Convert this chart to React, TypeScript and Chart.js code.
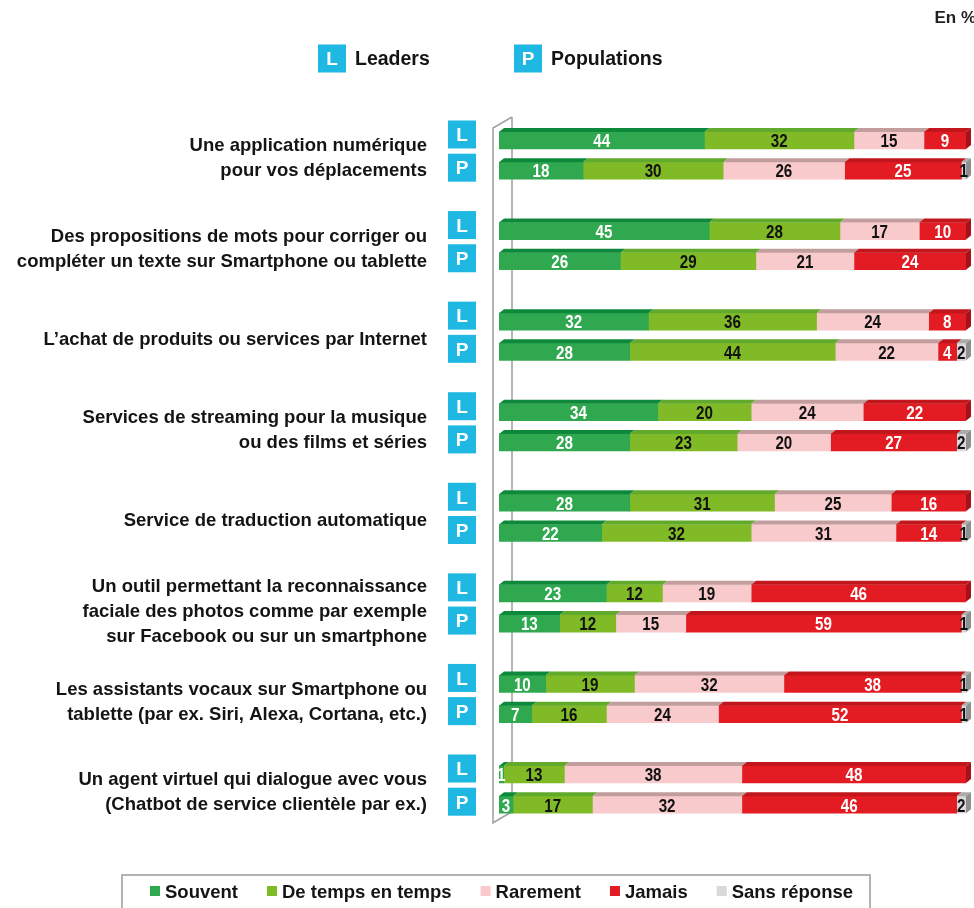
import React, { useEffect, useRef } from "react";
import { Chart, registerables } from "chart.js";

Chart.register(...registerables);

// ---------- data ----------
const categories: string[][] = [
  ["Une application numérique", "pour vos déplacements"],
  ["Des propositions de mots pour corriger ou", "compléter un texte sur Smartphone ou tablette"],
  ["L’achat de produits ou services par Internet"],
  ["Services de streaming pour la musique", "ou des films et séries"],
  ["Service de traduction automatique"],
  ["Un outil permettant la reconnaissance", "faciale des photos comme par exemple", "sur Facebook ou sur un smartphone"],
  ["Les assistants vocaux sur Smartphone ou", "tablette (par ex. Siri, Alexa, Cortana, etc.)"],
  ["Un agent virtuel qui dialogue avec vous", "(Chatbot de service clientèle par ex.)"],
];
const groupLetters = ["L", "P"];
const groupNames = ["Leaders", "Populations"];
const seriesNames = ["Souvent", "De temps en temps", "Rarement", "Jamais", "Sans réponse"];
const unitLabel = "En %";

const souventLeaders = [44, 45, 32, 34, 28, 23, 10, 1];
const souventPopulations = [18, 26, 28, 28, 22, 13, 7, 3];
const tempsLeaders = [32, 28, 36, 20, 31, 12, 19, 13];
const tempsPopulations = [30, 29, 44, 23, 32, 12, 16, 17];
const rarementLeaders = [15, 17, 24, 24, 25, 19, 32, 38];
const rarementPopulations = [26, 21, 22, 20, 31, 15, 24, 32];
const jamaisLeaders = [9, 10, 8, 22, 16, 46, 38, 48];
const jamaisPopulations = [25, 24, 4, 27, 14, 59, 52, 46];
const sansReponseLeaders = [0, 0, 0, 0, 0, 0, 1, 0];
const sansReponsePopulations = [1, 0, 2, 2, 1, 1, 1, 2];

const leaderSeries = [souventLeaders, tempsLeaders, rarementLeaders, jamaisLeaders, sansReponseLeaders];
const populationSeries = [souventPopulations, tempsPopulations, rarementPopulations, jamaisPopulations, sansReponsePopulations];

// ---------- styles ----------
const W = 974;
const H = 908;
const FRONT = ["#2fa84f", "#80bb27", "#f8cacb", "#e31b23", "#d9d9d9"];
const TOPC = ["#0e893b", "#62aa2b", "#c29d9d", "#c1161c", "#ababab"];
const SIDEC = ["#0f7d36", "#5b9a22", "#b48f8f", "#a51218", "#8f8f8f"];
const LABELC = ["#ffffff", "#111111", "#111111", "#ffffff", "#111111"];
const BADGE = "#1eb8e2";
const TEXT = "#141414";
const FONT = '"Liberation Sans", Arial, sans-serif';

type Row = { cat: number; group: number } | null;
const rows: Row[] = [];
categories.forEach((_, i) => {
  rows.push({ cat: i, group: 0 });
  rows.push({ cat: i, group: 1 });
  if (i < categories.length - 1) rows.push(null);
});
const rowLabels = rows.map((r, i) => (r ? `${r.cat}-${groupLetters[r.group]}` : `gap-${i}`));

const valueOf = (r: Row, s: number): number | null =>
  r ? (r.group === 0 ? leaderSeries : populationSeries)[s][r.cat] : null;

const DX = 5;
const DY = 4;

const decorPlugin = {
  id: "decor",
  beforeDatasetsDraw(chart: any) {
    const { ctx, chartArea } = chart;
    const fx = chartArea.left - 6;
    const bx = chartArea.left + 13;
    const ty = chartArea.top + 2.6;
    const by = chartArea.bottom + 3;
    ctx.save();
    ctx.strokeStyle = "#a3a3a3";
    ctx.lineWidth = 1.6;
    ctx.beginPath();
    ctx.moveTo(bx, ty - 11);
    ctx.lineTo(fx, ty);
    ctx.lineTo(fx, by);
    ctx.lineTo(bx, by - 11);
    ctx.moveTo(bx, ty - 11);
    ctx.lineTo(bx, by - 11);
    ctx.stroke();
    ctx.restore();
  },
  afterDatasetsDraw(chart: any) {
    const { ctx } = chart;
    const nS = chart.data.datasets.length;
    ctx.save();
    rows.forEach((r, j) => {
      if (!r) return;
      let last = -1;
      for (let s = 0; s < nS; s++) if ((valueOf(r, s) || 0) > 0) last = s;
      for (let s = 0; s < nS; s++) {
        const v = valueOf(r, s) || 0;
        if (v <= 0) continue;
        const el = chart.getDatasetMeta(s).data[j];
        const p = el.getProps(["x", "y", "base", "height"], true);
        const left = Math.min(p.base, p.x);
        const right = Math.max(p.base, p.x);
        const top = p.y - p.height / 2;
        const bottom = p.y + p.height / 2;
        ctx.fillStyle = TOPC[s];
        ctx.beginPath();
        ctx.moveTo(left, top);
        ctx.lineTo(left + DX, top - DY);
        ctx.lineTo(right + DX, top - DY);
        ctx.lineTo(right, top);
        ctx.closePath();
        ctx.fill();
        if (s === last) {
          ctx.fillStyle = SIDEC[s];
          ctx.beginPath();
          ctx.moveTo(right, top);
          ctx.lineTo(right + DX, top - DY);
          ctx.lineTo(right + DX, bottom - DY);
          ctx.lineTo(right, bottom);
          ctx.closePath();
          ctx.fill();
        }
      }
    });
    const fs = 19;
    ctx.font = `bold ${fs}px ${FONT}`;
    ctx.textAlign = "center";
    ctx.textBaseline = "alphabetic";
    rows.forEach((r, j) => {
      if (!r) return;
      for (let s = 0; s < nS; s++) {
        const v = valueOf(r, s) || 0;
        if (v <= 0) continue;
        const el = chart.getDatasetMeta(s).data[j];
        const p = el.getProps(["x", "y", "base"], true);
        const cx = (p.base + p.x) / 2;
        ctx.save();
        ctx.translate(cx, p.y + (fs * 0.716) / 2);
        ctx.scale(0.8, 1);
        ctx.fillStyle = LABELC[s];
        ctx.fillText(String(v), 0, 0);
        ctx.restore();
      }
    });
    ctx.restore();
  },
  afterDraw(chart: any) {
    const { ctx } = chart;
    ctx.save();
    const drawBadge = (x: number, cy: number, letter: string) => {
      ctx.fillStyle = BADGE;
      ctx.fillRect(x, cy - 14, 28, 28);
      ctx.fillStyle = "#ffffff";
      ctx.font = `bold 19px ${FONT}`;
      ctx.textAlign = "center";
      ctx.textBaseline = "alphabetic";
      ctx.fillText(letter, x + 14, cy + (19 * 0.716) / 2);
    };
    const meta0 = chart.getDatasetMeta(0);
    const lfs = 18.5;
    categories.forEach((lines, i) => {
      const jL = rows.findIndex((r) => r && r.cat === i && r.group === 0);
      const jP = rows.findIndex((r) => r && r.cat === i && r.group === 1);
      const yL = meta0.data[jL].y;
      const yP = meta0.data[jP].y;
      drawBadge(448, yL - 6, groupLetters[0]);
      drawBadge(448, yP - 3, groupLetters[1]);
      const center = (yL + yP) / 2 + 1.5;
      const lh = 25;
      ctx.fillStyle = TEXT;
      ctx.font = `bold ${lfs}px ${FONT}`;
      ctx.textAlign = "right";
      ctx.textBaseline = "alphabetic";
      lines.forEach((line, k) => {
        const cy = center + (k - (lines.length - 1) / 2) * lh;
        ctx.fillText(line, 427, cy + (lfs * 0.716) / 2);
      });
    });
    const tfs = 19.5;
    [318, 514].forEach((x, g) => {
      drawBadge(x, 58.5, groupLetters[g]);
      ctx.fillStyle = TEXT;
      ctx.font = `bold ${tfs}px ${FONT}`;
      ctx.textAlign = "left";
      ctx.fillText(groupNames[g], x + 37, 58.5 + (tfs * 0.716) / 2);
    });
    ctx.font = `bold 17px ${FONT}`;
    ctx.textAlign = "right";
    ctx.fillStyle = "#222";
    ctx.fillText(unitLabel, 976, 17 + (17 * 0.716) / 2);
    ctx.strokeStyle = "#9a9a9a";
    ctx.lineWidth = 1.5;
    ctx.strokeRect(122, 875, 748, 60);
    const bfs = 18.5;
    ctx.font = `bold ${bfs}px ${FONT}`;
    ctx.textAlign = "left";
    let x = 150;
    const ly = 891;
    seriesNames.forEach((name, s) => {
      ctx.fillStyle = FRONT[s];
      ctx.fillRect(x, ly - 5, 10, 10);
      ctx.fillStyle = TEXT;
      ctx.fillText(name, x + 15, ly + (bfs * 0.716) / 2);
      x += 15 + ctx.measureText(name).width + 29;
    });
    ctx.restore();
  },
};

export default function App() {
  const ref = useRef<HTMLCanvasElement | null>(null);
  useEffect(() => {
    if (!ref.current) return;
    const chart = new Chart(ref.current, {
      type: "bar",
      data: {
        labels: rowLabels,
        datasets: seriesNames.map((name, s) => ({
          label: name,
          data: rows.map((r) => valueOf(r, s)),
          backgroundColor: FRONT[s],
          borderWidth: 0,
          barThickness: 17,
        })),
      },
      options: {
        indexAxis: "y",
        responsive: false,
        animation: false,
        layout: { padding: { left: 499, right: 8, top: 125.4, bottom: 88.2 } },
        scales: {
          x: { stacked: true, min: 0, max: 100, display: false },
          y: { stacked: true, display: false },
        },
        plugins: { legend: { display: false }, tooltip: { enabled: false } },
      },
      plugins: [decorPlugin],
    } as any);
    return () => chart.destroy();
  }, []);
  return (
    <div style={{ position: "absolute", left: 0, top: 0, width: W, height: H, background: "#fff", overflow: "hidden" }}>
      <canvas ref={ref} width={W} height={H} style={{ width: W, height: H, display: "block" }} />
    </div>
  );
}
